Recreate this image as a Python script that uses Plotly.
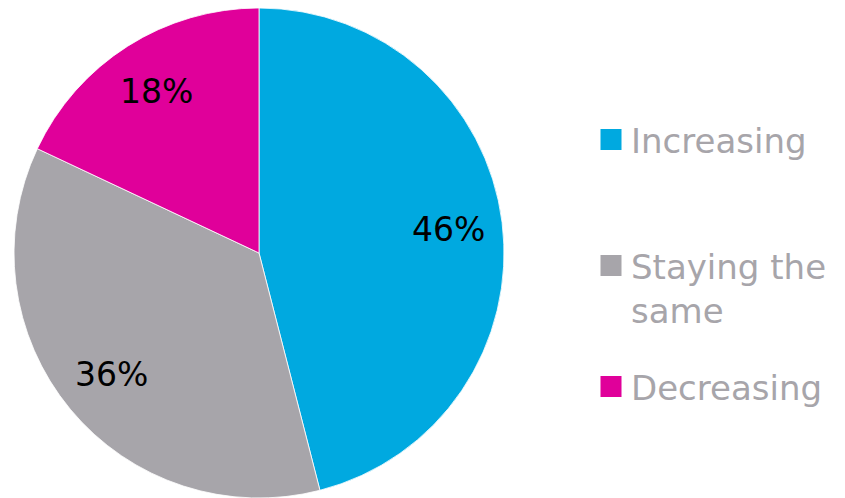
import plotly.graph_objects as go

categories = ["Increasing", "Staying the same", "Decreasing"]
legend_labels = ["Increasing", "Staying the<br>same", "Decreasing"]
values = [46, 36, 18]
colors = ["#00A9E0", "#A7A5AA", "#E0009A"]

# page has an 8px body margin; size the figure so it fits the 845x498 window
W, H = 837, 490

fig = go.Figure()
# slices
fig.add_trace(go.Pie(
    labels=categories,
    values=values,
    sort=False,
    direction="clockwise",
    rotation=0,
    marker=dict(colors=colors, line=dict(color="white", width=0.8)),
    textinfo="none",
    showlegend=False,
    domain=dict(x=[0, 502 / W], y=[0, 1]),
    hoverinfo="label+percent",
))
# percentage labels, placed in an outer ring of the same pie
fig.add_trace(go.Pie(
    labels=categories,
    values=values,
    sort=False,
    direction="clockwise",
    rotation=0,
    hole=0.56,
    marker=dict(colors=["rgba(0,0,0,0)"] * len(values), line=dict(width=0)),
    texttemplate="%{percent:.0%}",
    textposition="inside",
    insidetextorientation="horizontal",
    textfont=dict(family="DejaVu Sans", size=33, color="black"),
    showlegend=False,
    domain=dict(x=[0, 502 / W], y=[0, 1]),
    hoverinfo="skip",
))

legend_names = ["legend", "legend2", "legend3"]
for lab, col, lg in zip(legend_labels, colors, legend_names):
    fig.add_trace(go.Scatter(
        x=[None], y=[None], mode="markers", name=lab,
        marker=dict(symbol="square", size=16, color=col, line=dict(color=col, width=5)),
        legend=lg, showlegend=True,
    ))

def ypaper(px):
    return (H - px) / H

legend_common = dict(
    xanchor="left", x=583 / W,
    font=dict(family="DejaVu Sans", size=34, color="#A7A5AA"),
    bgcolor="rgba(0,0,0,0)", borderwidth=0, valign="top",
)
fig.update_layout(
    width=W, height=H,
    margin=dict(l=0, r=0, t=0, b=0),
    paper_bgcolor="white", plot_bgcolor="white",
    xaxis=dict(visible=False), yaxis=dict(visible=False),
    legend=dict(**legend_common, yanchor="middle", y=ypaper(132)),
    legend2=dict(**legend_common, yanchor="top", y=ypaper(229)),
    legend3=dict(**legend_common, yanchor="middle", y=ypaper(379)),
)

fig.write_html("out.html")
